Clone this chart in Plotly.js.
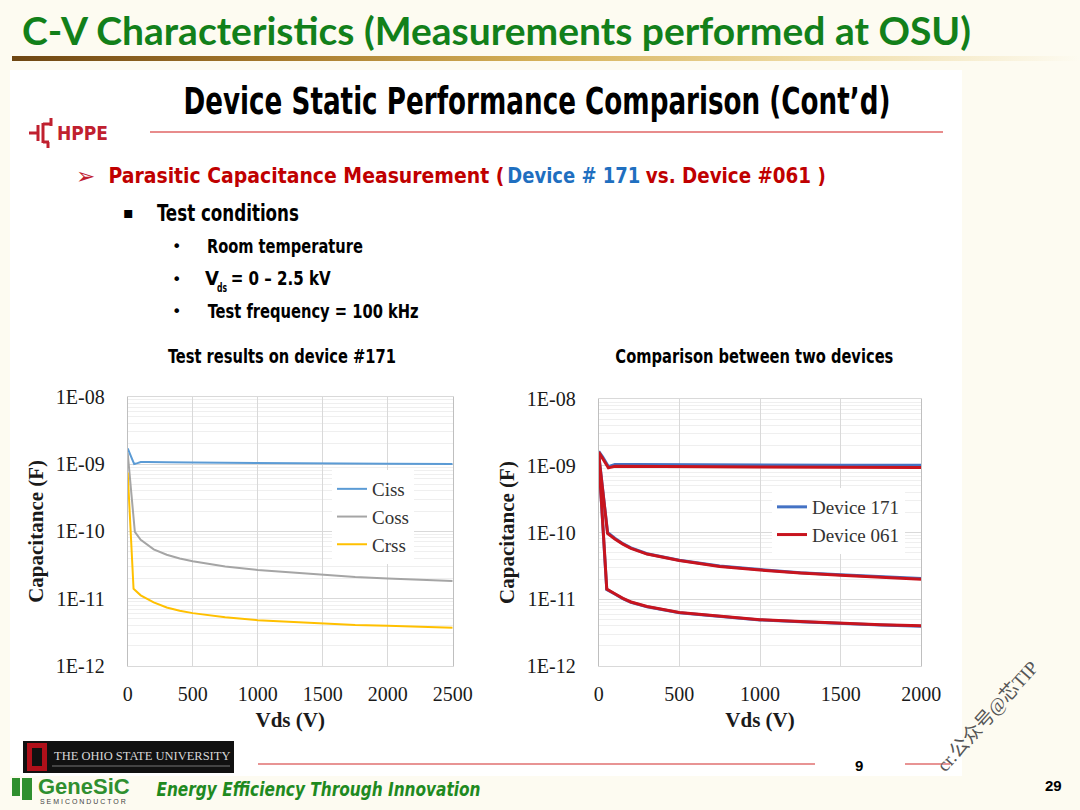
<!DOCTYPE html>
<html><head><meta charset="utf-8">
<script src="https://cdn.plot.ly/plotly-3.0.1.min.js"></script>
<style>
html,body{margin:0;padding:0;width:1080px;height:810px;overflow:hidden;background:#fdfbf1;}
#bgline{position:absolute;left:12px;top:56px;width:1068px;height:5px;
 background:linear-gradient(to right,#6e4612 0%,#a77a2c 25%,#d6b25a 50%,#efdca6 75%,rgba(253,251,241,0) 100%);}
#inner{position:absolute;left:10px;top:70px;width:952px;height:706px;background:#ffffff;}
#chart{position:absolute;left:0;top:0;width:1080px;height:810px;}
</style></head>
<body>
<div id="bgline"></div>
<div id="inner"></div>
<div id="chart"></div>
<script>
// ---------- data: test results on device #171 ----------
const vCiss = [0, 20, 50, 75, 100, 150, 200, 300, 500, 750, 1000, 1500, 2000, 2500];
const ciss171 = [1.7e-9, 1.35e-9, 1.0e-9, 1.03e-9, 1.07e-9, 1.07e-9, 1.06e-9, 1.06e-9, 1.05e-9, 1.04e-9, 1.03e-9, 1.02e-9, 1.01e-9, 1.0e-9];
const vCoss = [0, 55, 100, 150, 200, 300, 400, 500, 750, 1000, 1250, 1500, 1750, 2000, 2250, 2500];
const coss171 = [1.45e-9, 9.8e-11, 7.5e-11, 6.3e-11, 5.4e-11, 4.5e-11, 3.95e-11, 3.6e-11, 3.0e-11, 2.67e-11, 2.45e-11, 2.25e-11, 2.1e-11, 2.0e-11, 1.9e-11, 1.83e-11];
const vCrss = [0, 45, 100, 150, 200, 300, 400, 500, 750, 1000, 1250, 1500, 1750, 2000, 2250, 2500];
const crss171 = [7.5e-10, 1.4e-11, 1.12e-11, 9.8e-12, 8.8e-12, 7.4e-12, 6.6e-12, 6.1e-12, 5.3e-12, 4.8e-12, 4.5e-12, 4.25e-12, 4.05e-12, 3.95e-12, 3.8e-12, 3.7e-12];

// ---------- data: comparison between two devices ----------
const vC = [0, 25, 60, 100, 200, 500, 1000, 1500, 2000];
const cissDev171 = [1.65e-9, 1.35e-9, 0.97e-9, 1.04e-9, 1.04e-9, 1.03e-9, 1.03e-9, 1.02e-9, 1.02e-9];
const cissDev061 = [1.6e-9, 1.3e-9, 0.93e-9, 0.98e-9, 0.98e-9, 0.97e-9, 0.96e-9, 0.95e-9, 0.94e-9];
const vO = [0, 55, 100, 150, 200, 300, 500, 750, 1000, 1250, 1500, 1750, 2000];
const cossDev171 = [1.5e-9, 1.0e-10, 8.2e-11, 6.8e-11, 5.9e-11, 4.8e-11, 3.85e-11, 3.15e-11, 2.78e-11, 2.5e-11, 2.32e-11, 2.17e-11, 2.05e-11];
const cossDev061 = [1.45e-9, 9.7e-11, 8.0e-11, 6.7e-11, 5.8e-11, 4.75e-11, 3.8e-11, 3.1e-11, 2.74e-11, 2.47e-11, 2.29e-11, 2.13e-11, 2.0e-11];
const vR = [0, 50, 100, 150, 200, 300, 500, 750, 1000, 1250, 1500, 1750, 2000];
const crssDev171 = [1.3e-9, 1.4e-11, 1.2e-11, 1.02e-11, 9.0e-12, 7.7e-12, 6.3e-12, 5.5e-12, 4.9e-12, 4.6e-12, 4.3e-12, 4.1e-12, 3.95e-12];
const crssDev061 = [1.35e-9, 1.42e-11, 1.21e-11, 1.03e-11, 9.1e-12, 7.8e-12, 6.35e-12, 5.55e-12, 4.95e-12, 4.65e-12, 4.35e-12, 4.15e-12, 4.0e-12];

// ---------- tick labels ----------
const yTickVals = [1e-12, 1e-11, 1e-10, 1e-9, 1e-8];
const yTickText = ['1E-12', '1E-11', '1E-10', '1E-09', '1E-08'];
const minorVals = [];
[-12, -11, -10, -9].forEach(e => { for (let k = 2; k <= 9; k++) minorVals.push(k * Math.pow(10, e)); });

const W = 1080, H = 810;
const px = x => x / W, py = y => 1 - y / H;
const SERIF = 'Liberation Serif, Times New Roman, serif';
const NARROW = 'Liberation Sans Narrow, Arial Narrow, DejaVu Sans Condensed, sans-serif';

const C = {ciss:'#5b9bd5', coss:'#a5a5a5', crss:'#ffc000', d171:'#4472c4', d061:'#c8141e'};

const traces = [
  {x:vCiss, y:ciss171, name:'Ciss', line:{color:C.ciss, width:2}, xaxis:'x', yaxis:'y', legend:'legend'},
  {x:vCoss, y:coss171, name:'Coss', line:{color:C.coss, width:2}, xaxis:'x', yaxis:'y', legend:'legend'},
  {x:vCrss, y:crss171, name:'Crss', line:{color:C.crss, width:2}, xaxis:'x', yaxis:'y', legend:'legend'},
  {x:vC, y:cissDev171, name:'Device 171', legendgroup:'d171', line:{color:C.d171, width:3}, xaxis:'x2', yaxis:'y2', legend:'legend2'},
  {x:vO, y:cossDev171, name:'Device 171', legendgroup:'d171', showlegend:false, line:{color:C.d171, width:3}, xaxis:'x2', yaxis:'y2', legend:'legend2'},
  {x:vR, y:crssDev171, name:'Device 171', legendgroup:'d171', showlegend:false, line:{color:C.d171, width:3}, xaxis:'x2', yaxis:'y2', legend:'legend2'},
  {x:vC, y:cissDev061, name:'Device 061', legendgroup:'d061', line:{color:C.d061, width:3}, xaxis:'x2', yaxis:'y2', legend:'legend2'},
  {x:vO, y:cossDev061, name:'Device 061', legendgroup:'d061', showlegend:false, line:{color:C.d061, width:3}, xaxis:'x2', yaxis:'y2', legend:'legend2'},
  {x:vR, y:crssDev061, name:'Device 061', legendgroup:'d061', showlegend:false, line:{color:C.d061, width:3}, xaxis:'x2', yaxis:'y2', legend:'legend2'}
].map(t => Object.assign({type:'scatter', mode:'lines', hoverinfo:'skip'}, t));

function xAxis(domain, maxV, anchor){
  return {domain, anchor, range:[0, maxV], dtick:500, tick0:0, showgrid:true, gridcolor:'#d9d9d9', gridwidth:1,
    zeroline:false, showline:true, linecolor:'#d9d9d9', mirror:true, ticks:'outside', ticklen:10, tickcolor:'rgba(0,0,0,0)',
    tickfont:{family:SERIF, size:20, color:'#1a1a1a'},
    title:{text:'<b>Vds (V)</b>', font:{family:SERIF, size:21, color:'#1a1a1a'}, standoff:8}};
}
function yAxis(domain, anchor){
  return {domain, anchor, type:'log', range:[-12, -8], tickmode:'array', tickvals:yTickVals, ticktext:yTickText,
    showgrid:true, gridcolor:'#d9d9d9', zeroline:false, showline:true, linecolor:'#bfbfbf', mirror:true,
    ticks:'outside', ticklen:18, tickcolor:'rgba(0,0,0,0)',
    minor:{tickmode:'array', tickvals:minorVals, showgrid:true, gridcolor:'#efefef', ticklen:0},
    tickfont:{family:SERIF, size:20, color:'#1a1a1a'},
    title:{text:'<b>Capacitance (F)</b>', font:{family:SERIF, size:21, color:'#1a1a1a'}, standoff:6}};
}

const ann = [];
const fits = {};
function A(text, x, y, o){
  o = Object.assign({}, o || {});
  if (o.fit) { fits[ann.length] = o.fit; delete o.fit; }
  ann.push(Object.assign({text, xref:'paper', yref:'paper', x:px(x), y:py(y), xanchor:'left', yanchor:'middle', showarrow:false}, o));
}

A('C-V Characteristics (Measurements performed at OSU)', 20, 30, {font:{family:'Lato, Open Sans, sans-serif', size:39, color:'#12801a', weight:700}});
A('Device Static Performance Comparison (Cont’d)', 536.5, 102, {xanchor:'center', fit:707, font:{family:NARROW, size:37, color:'#000', weight:700}});
A('HPPE', 55, 133, {font:{family:NARROW, size:19, color:'#c0202f', weight:700}});
A('➢', 74, 176, {font:{family:'DejaVu Sans, sans-serif', size:23, color:'#c0202f'}});
A('Parasitic Capacitance Measurement (', 306, 176, {xanchor:'center', fit:396, font:{family:NARROW, size:21, color:'#c00000', weight:700}});
A('Device # 171', 573.5, 176, {xanchor:'center', fit:133, font:{family:NARROW, size:21, color:'#1f6fc0', weight:700}});
A('vs. Device #061 )', 736, 176, {xanchor:'center', fit:180, font:{family:NARROW, size:21, color:'#c00000', weight:700}});
A('▪', 121, 212, {font:{family:'DejaVu Sans, sans-serif', size:16, color:'#000'}});
A('Test conditions', 228, 213, {xanchor:'center', fit:142, font:{family:NARROW, size:23, color:'#000', weight:700}});
const bulletY = [246, 279, 311];
bulletY.forEach(yy => A('•', 170, yy, {font:{family:'DejaVu Sans, sans-serif', size:16, color:'#000'}}));
A('Room temperature', 285, 246, {xanchor:'center', fit:156, font:{family:NARROW, size:20, color:'#000', weight:700}});
A('V', 212, 278, {xanchor:'center', font:{family:NARROW, size:20, color:'#000', weight:700}});
A('ds', 222, 288, {xanchor:'center', fit:10, font:{family:NARROW, size:12, color:'#000', weight:700}});
A('= 0 – 2.5 kV', 280, 278, {xanchor:'center', fit:100, font:{family:NARROW, size:20, color:'#000', weight:700}});
A('Test frequency = 100 kHz', 312.5, 311, {xanchor:'center', fit:211, font:{family:NARROW, size:20, color:'#000', weight:700}});
A('Test results on device #171', 282, 356, {xanchor:'center', fit:228, font:{family:NARROW, size:20, color:'#000', weight:700}});
A('Comparison between two devices', 754, 356, {xanchor:'center', fit:278, font:{family:NARROW, size:20, color:'#000', weight:700}});

A('THE OHIO STATE UNIVERSITY', 52, 756, {font:{family:SERIF, size:12.5, color:'#d8d8d8'}});
A('9', 853, 765, {font:{family:'Liberation Sans, Arial, sans-serif', size:15, color:'#000', weight:700}});
A('GeneSiC', 36, 786, {font:{family:'Liberation Sans, Arial, sans-serif', size:22, color:'#2f8f2f', weight:700}});
A('S E M I C O N D U C T O R', 38, 801, {font:{family:'Liberation Sans, Arial, sans-serif', size:7, color:'#444'}});
A('Energy Efficiency Through Innovation', 318, 789, {xanchor:'center', fit:324, font:{family:NARROW, size:19, color:'#1f8a1f', weight:700, style:'italic'}});
A('29', 1043, 785, {font:{family:'Liberation Sans, Arial, sans-serif', size:15, color:'#000', weight:700}});
A('cr.公众号@芯TIP', 987, 716, {xanchor:'center', textangle:-48, font:{family:'Liberation Serif, Noto Sans CJK SC, serif', size:19, color:'#555'}});

const shapes = [];
function L(x0, y0, x1, y1, color, w){ shapes.push({type:'line', xref:'paper', yref:'paper', x0:px(x0), y0:py(y0), x1:px(x1), y1:py(y1), line:{color, width:w}}); }
function R(x0, y0, x1, y1, color, layer){ shapes.push({type:'rect', xref:'paper', yref:'paper', x0:px(x0), y0:py(y0), x1:px(x1), y1:py(y1), fillcolor:color, line:{width:0}, layer:layer||'below'}); }
// legend background (hides gridlines behind the legend, as in the original)
R(313, 476, 443, 557, '#ffffff', 'between');
// HPPE mark
const red = '#c0202f';
L(29, 133, 38, 133, red, 3); L(38, 125, 38, 141, red, 3);
L(43, 123, 43, 143, red, 3); L(43, 124, 51, 124, red, 3); L(51, 118, 51, 126, red, 3);
L(43, 142, 49, 142, red, 3); L(48, 142, 48, 148, red, 3);
L(150, 132, 943, 132, '#e06666', 1.5);
// OSU logo
R(23, 741, 234, 773, '#111111');
R(27, 743, 47, 771, '#b0101a');
R(32, 748, 42, 766, '#111111');
L(52, 766, 230, 766, '#777', 1);
// footer lines
L(258, 764, 815, 764, '#e07070', 1.5);
L(905, 764, 950, 764, '#e07070', 1.5);
// GeneSiC mark
R(12, 778, 20, 796, '#2f8f2f');
R(22, 778, 32, 800, '#2f8f2f');

const layout = {
  width:W, height:H, margin:{l:0, r:0, t:0, b:0}, paper_bgcolor:'rgba(0,0,0,0)', plot_bgcolor:'#ffffff',
  showlegend:true,
  xaxis: xAxis([px(127.7), px(452.7)], 2500, 'y'),
  yaxis: yAxis([py(666), py(396.7)], 'x'),
  xaxis2: xAxis([px(598.7), px(921.3)], 2000, 'y2'),
  yaxis2: yAxis([py(666), py(399)], 'x2'),
  legend:{x:px(332), y:py(470), xanchor:'left', yanchor:'top', bgcolor:'#ffffff', borderwidth:0,
    font:{family:SERIF, size:19, color:'#333'}, itemwidth:30, tracegroupgap:0},
  legend2:{x:px(772), y:py(488), xanchor:'left', yanchor:'top', bgcolor:'#ffffff', borderwidth:0,
    font:{family:SERIF, size:19, color:'#333'}, itemwidth:30, tracegroupgap:0},
  annotations: ann, shapes: shapes
};
Plotly.newPlot('chart', traces, layout, {staticPlot:true, displayModeBar:false}).then(gd => {
  // condense the narrow-font slide texts to the original widths
  Object.keys(fits).forEach(i => {
    const t = gd.querySelector('g.annotation[data-index="' + i + '"] text.annotation-text');
    if (t) { t.setAttribute('textLength', fits[i]); t.setAttribute('lengthAdjust', 'spacingAndGlyphs'); }
  });
});
</script>
</body></html>
